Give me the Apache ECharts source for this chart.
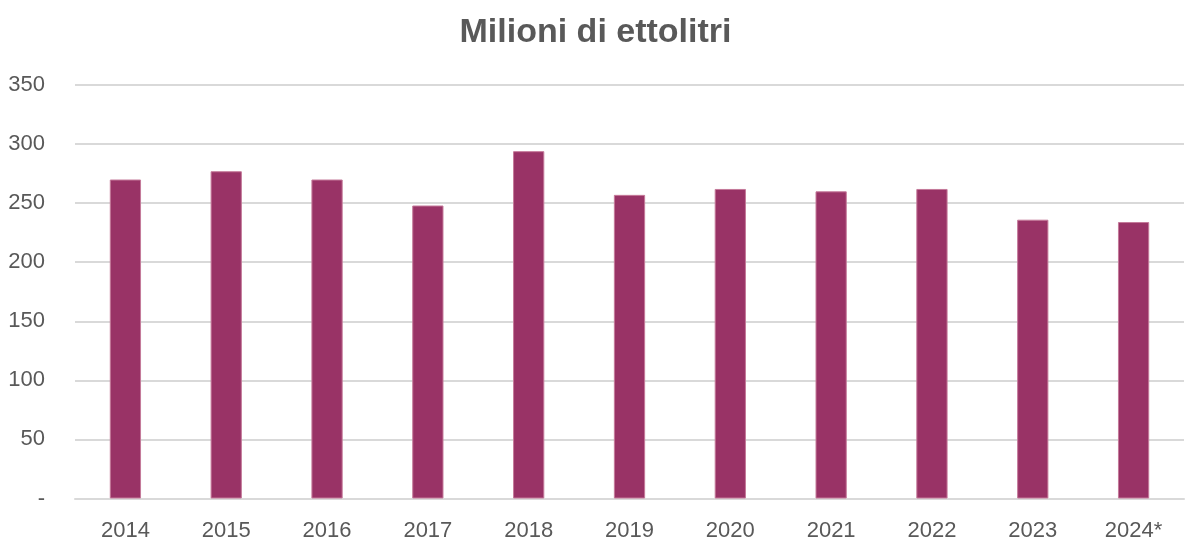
<!DOCTYPE html>
<html><head><meta charset="utf-8">
<script src="https://cdn.jsdelivr.net/npm/echarts@6/dist/echarts.min.js"></script>
<style>html,body{margin:0;padding:0;background:#fff}#c{width:1191px;height:549px}</style>
</head><body><div id="c"></div>
<script>
const categories = ['2014','2015','2016','2017','2018','2019','2020','2021','2022','2023','2024*'];
const values = [270, 277, 270, 248, 294, 257, 262, 260, 262, 236, 234];
const yTicks = [0, 50, 100, 150, 200, 250, 300, 350];
const title = 'Milioni di ettolitri';
const FONT = '"Liberation Sans Narrow", "Arial Narrow", "Liberation Sans", sans-serif';
const chart = echarts.init(document.getElementById('c'), null, {renderer: 'canvas'});
chart.setOption({
  animation: false,
  title: {text: title, left: 'center', top: 11,
    textStyle: {fontFamily: FONT, fontSize: 34, fontWeight: 'bold', color: '#595959'}},
  grid: {left: 75, right: 7, top: 85, bottom: 50.5, containLabel: false},
  xAxis: {type: 'category', data: categories,
    axisLine: {lineStyle: {color: '#d9d9d9', width: 2}},
    axisTick: {show: false},
    axisLabel: {fontFamily: FONT, fontSize: 22, color: '#595959', margin: 21}},
  yAxis: {type: 'value', min: yTicks[0], max: yTicks[yTicks.length-1], interval: 50,
    axisLine: {show: false}, axisTick: {show: false},
    splitLine: {lineStyle: {color: '#d9d9d9', width: 2}},
    axisLabel: {fontFamily: FONT, fontSize: 22, color: '#595959', margin: 30,
      formatter: v => v === 0 ? '-' : String(v)}},
  series: [{type: 'bar', data: values, barWidth: '31%',
    itemStyle: {color: '#993366', borderColor: '#c57a9a', borderWidth: 1}}]
});
</script></body></html>
